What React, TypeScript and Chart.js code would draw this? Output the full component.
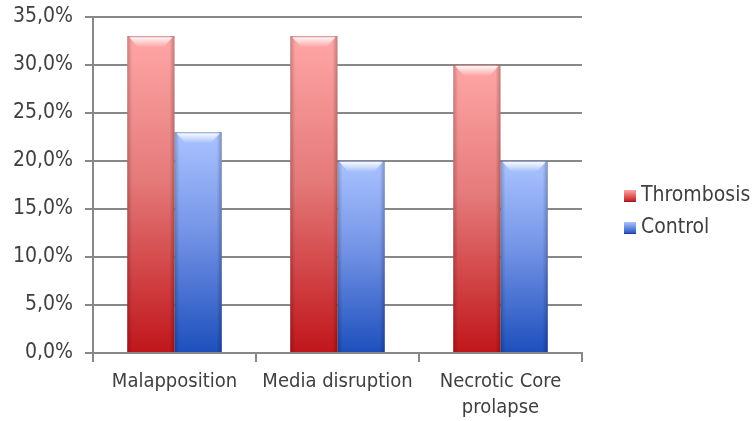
import React, { useEffect, useRef } from "react";
import { Chart, registerables } from "chart.js";

Chart.register(...registerables);

const categories: (string | string[])[] = ["Malapposition", "Media disruption", ["Necrotic Core", "prolapse"]];
const seriesNames = ["Thrombosis", "Control"];
const thrombosis = [33, 33, 30];
const control = [23, 20, 20];
const yMin = 0;
const yMax = 35;
const yStep = 5;

const FONT = "'DejaVu Sans Condensed', 'DejaVu Sans', sans-serif";
const TEXT = "#404040";
const GRID = "#888888";

const redStops = ["#ffa6a6", "#e57a7a", "#c0161b"];
const blueStops = ["#aac3ff", "#7594e6", "#1d4fbd"];

function barGradient(ctx: any, stops: string[]) {
  const chart = ctx.chart;
  if (!chart.chartArea || ctx.type !== "data") return stops[2];
  const ys = chart.scales.y;
  const v = ctx.raw as number;
  const yTop = ys.getPixelForValue(v);
  const yBot = ys.getPixelForValue(0);
  const g = chart.ctx.createLinearGradient(0, yTop, 0, yBot);
  g.addColorStop(0, stops[0]);
  g.addColorStop(0.45, stops[1]);
  g.addColorStop(1, stops[2]);
  return g;
}

const bevelPlugin = {
  id: "bevel",
  afterDatasetsDraw(chart: any) {
    const c = chart.ctx;
    chart.data.datasets.forEach((_: any, di: number) => {
      const meta = chart.getDatasetMeta(di);
      meta.data.forEach((bar: any) => {
        const { x, y, base, width } = bar.getProps(["x", "y", "base", "width"], true);
        const l = x - width / 2;
        const r = x + width / 2;
        const h = base - y;
        c.save();
        let g = c.createLinearGradient(l, 0, l + 5, 0);
        g.addColorStop(0, "rgba(0,0,0,0.22)");
        g.addColorStop(1, "rgba(0,0,0,0)");
        c.fillStyle = g;
        c.fillRect(l, y, 5, h);
        g = c.createLinearGradient(r, 0, r - 5, 0);
        g.addColorStop(0, "rgba(0,0,0,0.25)");
        g.addColorStop(1, "rgba(0,0,0,0)");
        c.fillStyle = g;
        c.fillRect(r - 5, y, 5, h);
        g = c.createLinearGradient(0, y + 1, 0, y + 11);
        g.addColorStop(0, "rgba(255,255,255,0.9)");
        g.addColorStop(1, "rgba(255,255,255,0)");
        c.fillStyle = g;
        c.beginPath();
        c.moveTo(l + 2, y + 1);
        c.lineTo(r - 2, y + 1);
        c.lineTo(r - 11, y + 11);
        c.lineTo(l + 11, y + 11);
        c.closePath();
        c.fill();
        c.fillStyle = "rgba(0,0,0,0.18)";
        c.fillRect(l, y, width, 1);
        c.restore();
      });
    });
  },
};

const legendPlugin = {
  id: "customLegend",
  afterDraw(chart: any) {
    const c = chart.ctx;
    const area = chart.chartArea;
    const x0 = area.right + 42;
    const rows = [196, 228];
    const colors = [redStops, blueStops];
    c.save();
    seriesNames.forEach((name, i) => {
      const cy = rows[i];
      const g = c.createLinearGradient(0, cy - 6, 0, cy + 6);
      g.addColorStop(0, colors[i][0]);
      g.addColorStop(1, colors[i][2]);
      c.fillStyle = g;
      c.fillRect(x0, cy - 6, 12, 12);
      c.fillStyle = "rgba(0,0,0,0.2)";
      c.fillRect(x0, cy + 5, 12, 1);
      c.fillStyle = TEXT;
      c.font = `21px ${FONT}`;
      c.textBaseline = "middle";
      c.textAlign = "left";
      c.fillText(name, x0 + 17, cy);
    });
    c.restore();
  },
};

export default function App() {
  const ref = useRef<HTMLCanvasElement | null>(null);
  useEffect(() => {
    document.body.style.margin = "0";
    const canvas = ref.current!;
    const chart = new Chart(canvas, {
      type: "bar",
      data: {
        labels: categories,
        datasets: [
          {
            label: seriesNames[0],
            data: thrombosis,
            backgroundColor: (ctx: any) => barGradient(ctx, redStops),
            borderWidth: 0,
            categoryPercentage: 0.58,
            barPercentage: 1,
          },
          {
            label: seriesNames[1],
            data: control,
            backgroundColor: (ctx: any) => barGradient(ctx, blueStops),
            borderWidth: 0,
            categoryPercentage: 0.58,
            barPercentage: 1,
          },
        ],
      },
      options: {
        responsive: false,
        animation: false,
        layout: { padding: { top: 17, right: 172, left: 0, bottom: 0 } },
        plugins: {
          legend: { display: false },
          tooltip: { enabled: false },
        },
        scales: {
          x: {
            grid: {
              display: true,
              drawOnChartArea: false,
              drawTicks: true,
              tickLength: 9,
              color: GRID,
              lineWidth: 2,
            },
            border: { display: true, color: GRID, width: 2 },
            ticks: {
              color: TEXT,
              font: { family: FONT, size: 20, lineHeight: 1.3 },
              padding: 7,
              maxRotation: 0,
              autoSkip: false,
            },
            afterFit: (axis: any) => {
              axis.height = 68;
              axis.paddingLeft = 0;
              axis.paddingRight = 0;
            },
          },
          y: {
            min: yMin,
            max: yMax,
            grid: {
              color: GRID,
              lineWidth: 2,
              drawTicks: true,
              tickLength: 8,
            },
            border: { display: true, color: GRID, width: 2 },
            ticks: {
              stepSize: yStep,
              color: TEXT,
              font: { family: FONT, size: 21 },
              padding: 12,
              callback: (v: any) => Number(v).toFixed(1).replace(".", ",") + "%",
            },
            afterFit: (axis: any) => {
              axis.width = 93;
              axis.paddingTop = 0;
              axis.paddingBottom = 0;
            },
          },
        },
      },
      plugins: [bevelPlugin, legendPlugin],
    });
    return () => chart.destroy();
  }, []);
  return (
    <div style={{ width: 754, height: 421, background: "#fff" }}>
      <canvas ref={ref} width={754} height={421} style={{ display: "block" }} />
    </div>
  );
}
